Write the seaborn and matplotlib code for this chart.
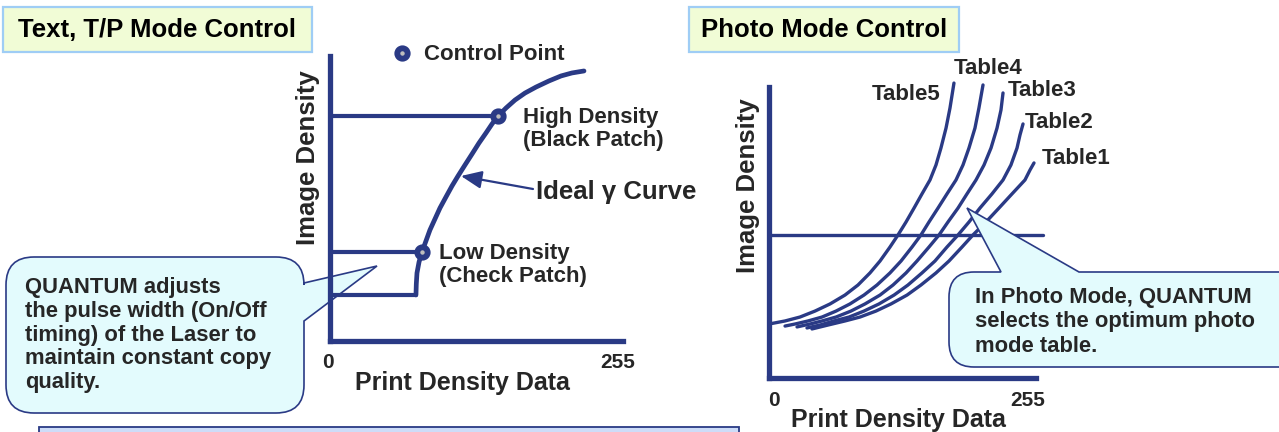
import matplotlib
matplotlib.use("Agg")
import matplotlib.pyplot as plt
import seaborn as sns
from matplotlib.path import Path
from matplotlib.patches import PathPatch, Rectangle
from matplotlib.lines import Line2D

# --- data --------------------------------------------------------------
# Text, T/P mode: ideal gamma curve (print density 0-255, image density 0-2)
gamma_x = [75.6, 75.9, 76.5, 78.3, 80.9, 84.4, 87.9, 92.3, 96.7, 102.0, 107.3, 112.6, 118.7,
           124.9, 131.0, 137.2, 142.5, 147.8, 154.8, 162.7, 171.5, 181.2, 192.6, 203.2, 212.8, 223.4]
gamma_y = [0.323, 0.400, 0.477, 0.554, 0.625, 0.702, 0.779, 0.856, 0.933, 1.011, 1.088, 1.158, 1.235,
           1.312, 1.389, 1.460, 1.523, 1.579, 1.635, 1.691, 1.740, 1.782, 1.825, 1.860, 1.881, 1.895]
control_x = [147.8, 80.9]          # high density, low density
control_y = [1.579, 0.625]
floor_x = 75.6                      # lowest level of the curve
floor_y = 0.323

# Photo mode tables
table1_x = [42.3, 58.1, 74.8, 89.6, 105.3, 120.1, 135.9, 149.6, 164.4, 177.2, 190.0, 200.8, 213.6,
            226.4, 239.2, 252.0, 257.0, 260.9]
table1_y = [0.337, 0.364, 0.392, 0.419, 0.460, 0.509, 0.570, 0.639, 0.722, 0.804, 0.900, 0.983, 1.072,
            1.168, 1.265, 1.361, 1.430, 1.478]
table2_x = [37.4, 50.2, 64.0, 78.8, 93.5, 108.3, 123.1, 136.8, 150.6, 163.4, 175.2, 186.1, 196.9,
            207.7, 219.5, 230.4, 238.2, 244.2, 247.1, 250.1]
table2_y = [0.344, 0.364, 0.392, 0.419, 0.460, 0.509, 0.570, 0.639, 0.722, 0.804, 0.900, 0.983, 1.072,
            1.168, 1.265, 1.361, 1.464, 1.581, 1.670, 1.746]
table3_x = [27.6, 40.4, 52.2, 66.0, 80.7, 94.5, 109.3, 122.1, 134.9, 145.7, 157.5, 167.4, 176.2,
            186.1, 194.9, 203.8, 211.7, 218.6, 224.5, 228.4, 230.4]
table3_y = [0.351, 0.371, 0.392, 0.419, 0.460, 0.509, 0.570, 0.639, 0.722, 0.804, 0.900, 0.983, 1.072,
            1.168, 1.265, 1.361, 1.464, 1.581, 1.718, 1.842, 1.959]
table4_x = [15.8, 25.6, 38.4, 52.2, 66.0, 79.7, 93.5, 106.3, 119.1, 130.0, 140.8, 149.6, 157.5,
            166.4, 175.2, 184.1, 191.0, 196.9, 202.8, 206.7, 210.7]
table4_y = [0.357, 0.371, 0.392, 0.419, 0.460, 0.509, 0.570, 0.639, 0.722, 0.804, 0.900, 0.983, 1.072,
            1.168, 1.265, 1.361, 1.464, 1.581, 1.718, 1.856, 2.014]
table5_x = [0.0, 15.8, 30.5, 45.3, 60.1, 74.8, 87.6, 99.4, 109.3, 119.1, 127.0, 134.9, 142.8,
            150.6, 158.5, 164.4, 169.3, 174.3, 178.2, 182.1]
table5_y = [0.371, 0.392, 0.419, 0.460, 0.509, 0.570, 0.639, 0.722, 0.804, 0.900, 0.983, 1.072, 1.168,
            1.265, 1.361, 1.464, 1.581, 1.718, 1.856, 2.027]
table_names = ["Table1", "Table2", "Table3", "Table4", "Table5"]
photo_target_y = 0.983
photo_target_end = 269.8

x_ticks = ["0", "255"]
axis_top = 2.0

NAVY = "#2a3a85"
GREY = "#bdbdbd"
W, H = 1279, 432

sns.set_theme(style="white")
plt.rcParams["font.family"] = ["Liberation Sans", "DejaVu Sans"]
plt.rcParams["font.weight"] = "bold"

fig = plt.figure(figsize=(W / 100, H / 100), dpi=100)
fig.patch.set_facecolor("white")


def overlay(z):
    a = fig.add_axes([0, 0, 1, 1], zorder=z)
    a.set_xlim(0, W)
    a.set_ylim(H, 0)
    a.axis("off")
    a.patch.set_alpha(0)
    return a


def panel(x0, y0, sx, sy, x_end):
    # x0, y0: pixel position of the origin, sx, sy: pixels per data unit
    xlim = (-10, 285)
    ylim = (-0.15, 2.2)
    left = x0 + xlim[0] * sx
    right = x0 + xlim[1] * sx
    bottom = y0 - ylim[0] * sy
    top = y0 - ylim[1] * sy
    a = fig.add_axes([left / W, (H - bottom) / H, (right - left) / W, (bottom - top) / H], zorder=1)
    a.set_xlim(xlim)
    a.set_ylim(ylim)
    a.patch.set_alpha(0)
    a.set_xticks([])
    a.set_yticks([])
    for s in ["top", "right"]:
        a.spines[s].set_visible(False)
    for s in ["left", "bottom"]:
        a.spines[s].set_position(("data", 0))
        a.spines[s].set_color(NAVY)
        a.spines[s].set_linewidth(3.8)
        a.spines[s].set_capstyle("projecting")
    a.spines["left"].set_bounds(0, axis_top)
    a.spines["bottom"].set_bounds(0, x_end)
    return a


def bubble_path(x0, y0, x1, y1, r, side, base, tip):
    verts, codes = [], []

    def add(p, c):
        verts.append(p)
        codes.append(c)

    add((x0 + r, y0), Path.MOVETO)
    if side == "top":
        add((base[0], y0), Path.LINETO)
        add(tip, Path.LINETO)
        add((base[1], y0), Path.LINETO)
    add((x1 - r, y0), Path.LINETO)
    add((x1, y0), Path.CURVE3)
    add((x1, y0 + r), Path.CURVE3)
    if side == "right":
        add((x1, base[0]), Path.LINETO)
        add(tip, Path.LINETO)
        add((x1, base[1]), Path.LINETO)
    add((x1, y1 - r), Path.LINETO)
    add((x1, y1), Path.CURVE3)
    add((x1 - r, y1), Path.CURVE3)
    add((x0 + r, y1), Path.LINETO)
    add((x0, y1), Path.CURVE3)
    add((x0, y1 - r), Path.CURVE3)
    add((x0, y0 + r), Path.LINETO)
    add((x0, y0), Path.CURVE3)
    add((x0 + r, y0), Path.CURVE3)
    add((0, 0), Path.CLOSEPOLY)
    return Path(verts, codes)


bg = overlay(0)
fg = overlay(2)

# title boxes
for (bx, bw, label) in [(3, 309, "Text, T/P Mode Control"), (689, 270, "Photo Mode Control")]:
    bg.add_patch(Rectangle((bx, 7), bw, 45, facecolor="#f1fcd6", edgecolor="#9fcdf5", lw=1.6))
    bg.text(bx + bw / 2, 30, label, ha="center", va="center", fontsize=18.5, color="black")

# bottom box
bg.add_patch(Rectangle((39, 427), 700, 20, facecolor="#cddcf8", edgecolor=NAVY, lw=1.3, clip_on=False))

# ---------------- left panel ----------------
axL = panel(330, 341, 1.137, 142.5, 257.7)
sns.lineplot(x=gamma_x, y=gamma_y, ax=axL, color=NAVY, lw=3.4, sort=False, estimator=None)
for cx, cy in zip(control_x, control_y):
    sns.lineplot(x=[0, cx], y=[cy, cy], ax=axL, color=NAVY, lw=3.0, estimator=None)
sns.lineplot(x=[0, floor_x], y=[floor_y, floor_y], ax=axL, color=NAVY, lw=3.0, estimator=None)
sns.scatterplot(x=control_x, y=control_y, ax=axL, s=56, color=GREY, edgecolor=NAVY, linewidth=4.2,
                zorder=5)

# left call-out (under the panel lines)
bg.add_patch(PathPatch(bubble_path(6, 257, 304, 413, 28, "right", (283, 321), (377, 266)),
                       facecolor="#e3fbfd", edgecolor=NAVY, lw=1.2))
bg.text(25, 335, "QUANTUM adjusts\nthe pulse width (On/Off\ntiming) of the Laser to\nmaintain constant copy\nquality.",
        ha="left", va="center", fontsize=15.8, linespacing=1.18)

key = Line2D([], [], ls="none", marker="o", ms=7.5, mfc=GREY, mec=NAVY, mew=4.2)
bg.legend([key], ["Control Point"], loc="center left", bbox_to_anchor=(393 / W, 1 - 55 / H),
          bbox_transform=fig.transFigure, frameon=False, prop=dict(weight="bold", size=16),
          handlelength=0.8, handletextpad=0.6, borderpad=0, borderaxespad=0)

bg.text(523, 129, "High Density\n(Black Patch)", ha="left", va="center", fontsize=16, linespacing=1.15)
bg.text(439, 265, "Low Density\n(Check Patch)", ha="left", va="center", fontsize=16, linespacing=1.15)
bg.annotate("", xy=(461, 176), xytext=(533, 189),
            arrowprops=dict(arrowstyle="-|>,head_length=0.7,head_width=0.3", color=NAVY, lw=1.6,
                            shrinkA=0, shrinkB=0, mutation_scale=18))
bg.text(536, 192, "Ideal γ Curve", ha="left", va="center", fontsize=18.5)

bg.text(308, 158, "Image Density", rotation=90, ha="center", va="center", fontsize=18.5)
bg.text(462, 383, "Print Density Data", ha="center", va="center", fontsize=18)
bg.text(328, 363, x_ticks[0], ha="center", va="center", fontsize=15)
bg.text(618, 363, x_ticks[1], ha="center", va="center", fontsize=15)

# ---------------- right panel ----------------
axR = panel(769, 378, 1.0157, 145.5, 262.9)
sns.lineplot(x=[0, photo_target_end], y=[photo_target_y, photo_target_y], ax=axR, color=NAVY, lw=2.4,
             estimator=None)
tables = [(table1_x, table1_y), (table2_x, table2_y), (table3_x, table3_y),
          (table4_x, table4_y), (table5_x, table5_y)]
for tx, ty in tables:
    sns.lineplot(x=tx, y=ty, ax=axR, color=NAVY, lw=2.4, sort=False, estimator=None)
for ax in (axL, axR):
    for ln in ax.lines:
        ln.set_clip_on(False)
        ln.set_solid_joinstyle("round")
    for c in ax.collections:
        c.set_clip_on(False)

label_pos = [(1042, 158), (1025, 122), (1008, 91), (954, 68), (872, 94)]
for name, (lx, ly) in zip(table_names, label_pos):
    bg.text(lx, ly, name, ha="left", va="center", fontsize=16)

fg.add_patch(PathPatch(bubble_path(949, 272, 1310, 367, 25, "top", (1001, 1079), (967, 208)),
                       facecolor="#e3fbfd", edgecolor=NAVY, lw=1.2, clip_on=False))
fg.text(975, 322, "In Photo Mode, QUANTUM\nselects the optimum photo\nmode table.",
        ha="left", va="center", fontsize=15.8, linespacing=1.22)

bg.text(748, 186, "Image Density", rotation=90, ha="center", va="center", fontsize=18.5)
bg.text(898, 420, "Print Density Data", ha="center", va="center", fontsize=18)
bg.text(774, 401, x_ticks[0], ha="center", va="center", fontsize=15)
bg.text(1028, 401, x_ticks[1], ha="center", va="center", fontsize=15)

fig.savefig("out.png", dpi=100)
